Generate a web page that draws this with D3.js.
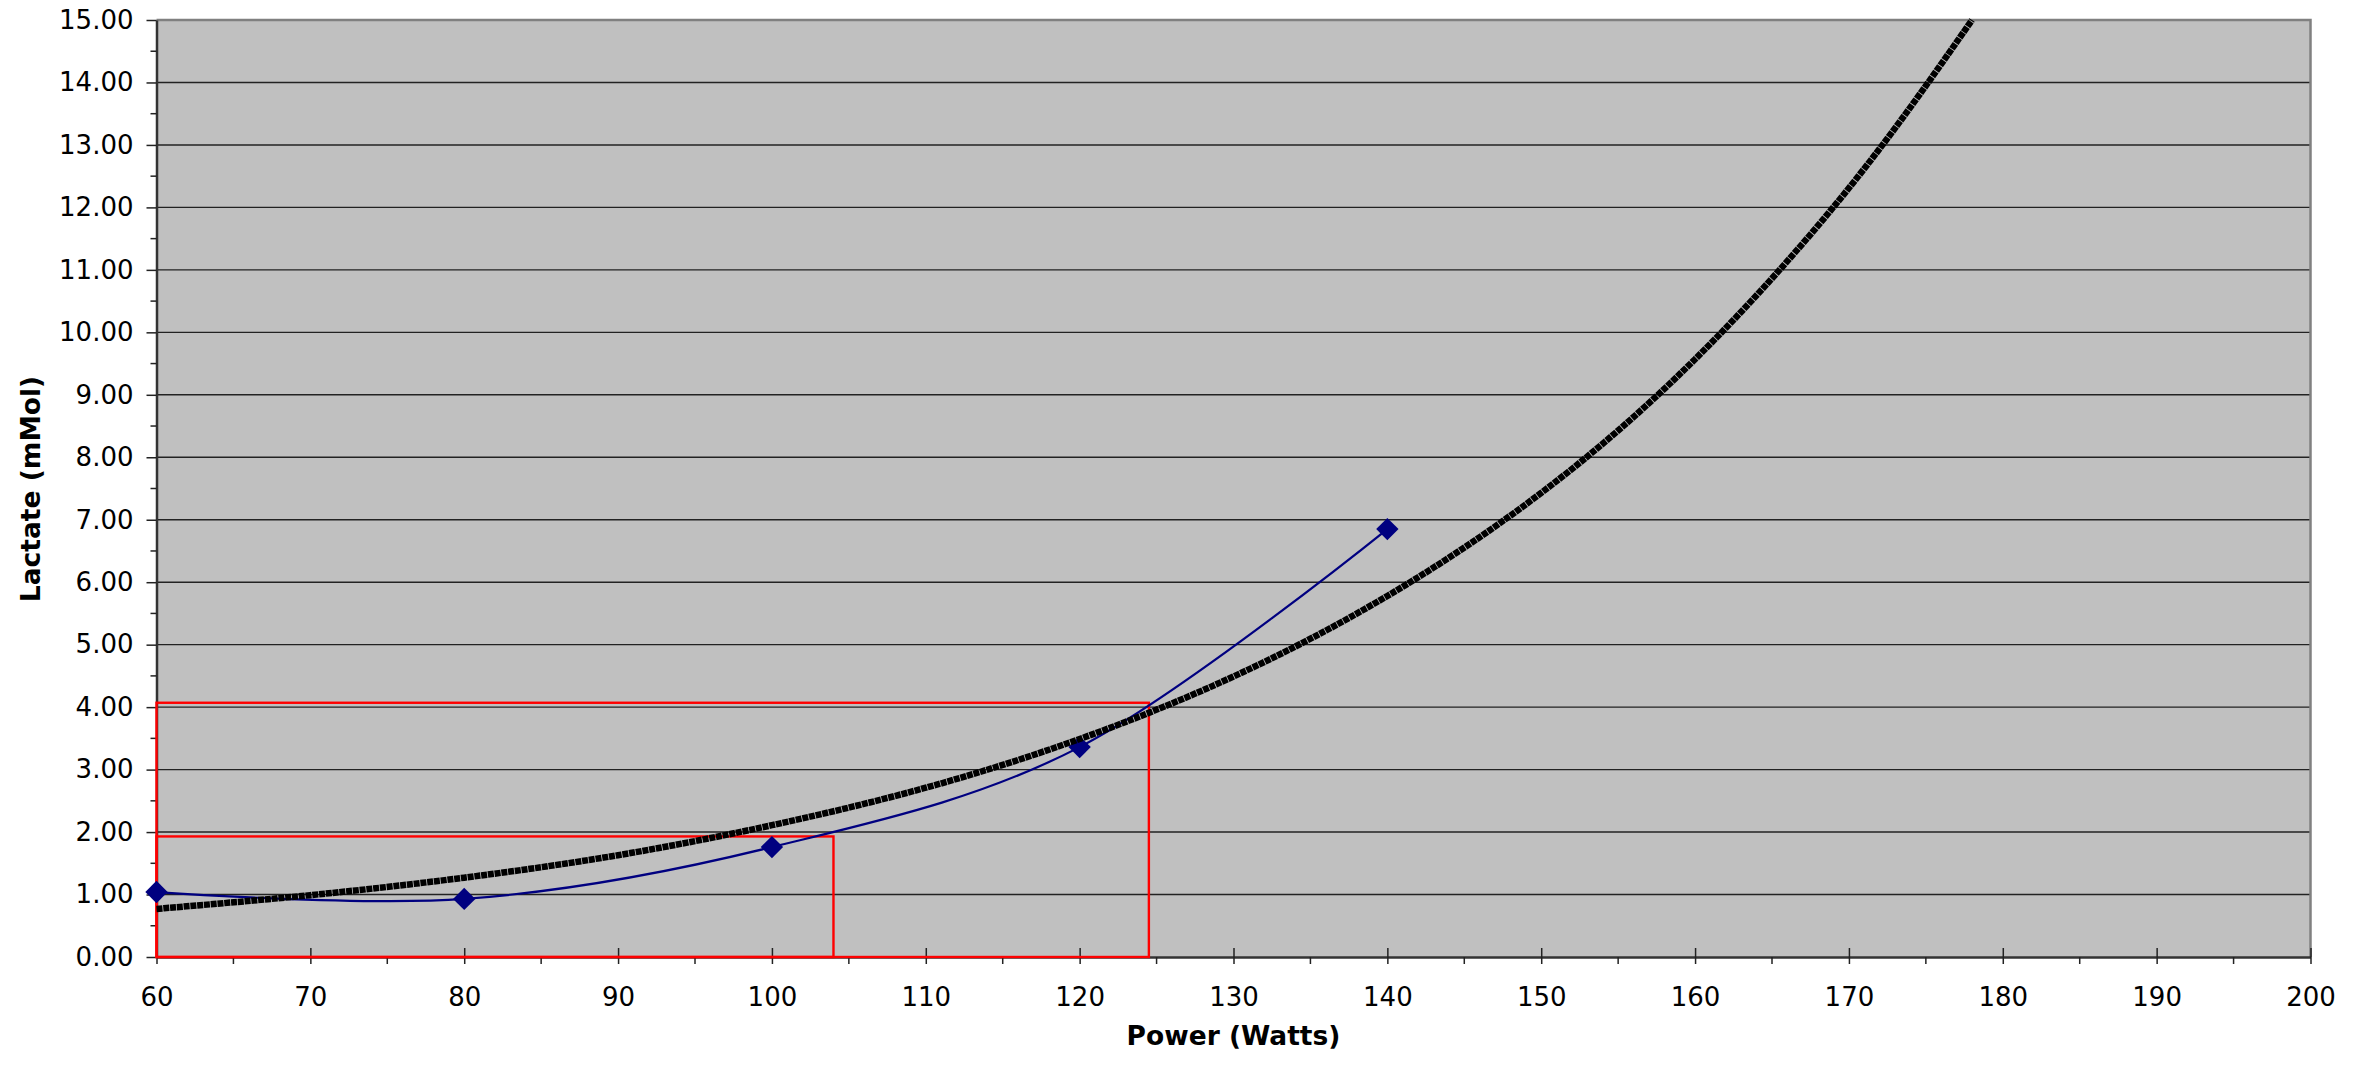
<!DOCTYPE html>
<html>
<head>
<meta charset="utf-8">
<script src="https://cdn.jsdelivr.net/npm/d3@7"></script>
<style>
  body { margin: 0; background: #fff; }
  text { font-family: "DejaVu Sans", Verdana, sans-serif; }
</style>
</head>
<body>
<div id="chart"></div>
<script>
// measured lactate test points
var powerW = [60, 80, 100, 120, 140];
var lactate = [1.04, 0.93, 1.76, 3.36, 6.85];

// exponential trendline
var trendPower = [60, 70, 80, 90, 100, 110, 120, 130, 140, 150, 160, 170, 178];
var trendLactate = [0.77, 0.99, 1.27, 1.63, 2.11, 2.71, 3.49, 4.49, 5.78, 7.43, 9.57, 12.31, 15.0];

// threshold boxes (power, lactate)
var thresholdPower = [104, 124.5];
var thresholdLactate = [1.93, 4.07];

var xTicks = [60, 70, 80, 90, 100, 110, 120, 130, 140, 150, 160, 170, 180, 190, 200];
var xMinor = [65, 75, 85, 95, 105, 115, 125, 135, 145, 155, 165, 175, 185, 195];
var yTicks = [0, 1, 2, 3, 4, 5, 6, 7, 8, 9, 10, 11, 12, 13, 14, 15];
var yMinor = [0.5, 1.5, 2.5, 3.5, 4.5, 5.5, 6.5, 7.5, 8.5, 9.5, 10.5, 11.5, 12.5, 13.5, 14.5];

var svgWidth = 2376;
var svgHeight = 1065;

var chartMargin = { top: 20, right: 65.5, bottom: 108, left: 156.5 };
var chartWidth = svgWidth - chartMargin.left - chartMargin.right;
var chartHeight = svgHeight - chartMargin.top - chartMargin.bottom;

var svg = d3.select("#chart")
  .append("svg")
  .attr("width", svgWidth)
  .attr("height", svgHeight);

var chartGroup = svg.append("g")
  .attr("transform", `translate(${chartMargin.left}, ${chartMargin.top})`);

var xScale = d3.scaleLinear().domain([60, 200]).range([0, chartWidth]);
var yScale = d3.scaleLinear().domain([0, 15]).range([chartHeight, 0]);

// plot background
chartGroup.append("rect")
  .attr("width", chartWidth)
  .attr("height", chartHeight)
  .attr("fill", "#c0c0c0");

// gridlines
chartGroup.append("g")
  .selectAll("line")
  .data(yTicks.filter(d => d > 0 && d < 15))
  .enter()
  .append("line")
  .attr("x1", 0)
  .attr("x2", chartWidth)
  .attr("y1", d => yScale(d))
  .attr("y2", d => yScale(d))
  .attr("stroke", "#222")
  .attr("stroke-width", 1.4);

// top and right border
chartGroup.append("path")
  .attr("d", `M0,0H${chartWidth}V${chartHeight}`)
  .attr("fill", "none")
  .attr("stroke", "#808080")
  .attr("stroke-width", 2.5);

// axes
var leftAxis = d3.axisLeft(yScale)
  .tickValues(yTicks)
  .tickFormat(d3.format(".2f"))
  .tickSize(10)
  .tickSizeOuter(0)
  .tickPadding(13);

var yAxisG = chartGroup.append("g").call(leftAxis);
yAxisG.select(".domain").attr("stroke", "#333").attr("stroke-width", 2.5);
yAxisG.selectAll(".tick line").attr("stroke", "#222").attr("stroke-width", 1.5);
yAxisG.selectAll("text").attr("font-size", 26).attr("fill", "#000")
  .style("font-family", "'DejaVu Sans', Verdana, sans-serif");

chartGroup.append("g")
  .selectAll("line")
  .data(yMinor)
  .enter()
  .append("line")
  .attr("x1", -6)
  .attr("x2", 0)
  .attr("y1", d => yScale(d))
  .attr("y2", d => yScale(d))
  .attr("stroke", "#222")
  .attr("stroke-width", 1.5);

var bottomAxis = d3.axisBottom(xScale)
  .tickValues(xTicks)
  .tickSize(7)
  .tickSizeOuter(0)
  .tickPadding(24);

var xAxisG = chartGroup.append("g")
  .attr("transform", `translate(0, ${chartHeight})`)
  .call(bottomAxis);
xAxisG.select(".domain").attr("stroke", "#333").attr("stroke-width", 2.5);
xAxisG.selectAll(".tick line").attr("y1", -9).attr("stroke", "#222").attr("stroke-width", 1.5);
xAxisG.selectAll("text").attr("font-size", 26).attr("fill", "#000")
  .style("font-family", "'DejaVu Sans', Verdana, sans-serif");

chartGroup.append("g")
  .selectAll("line")
  .data(xMinor)
  .enter()
  .append("line")
  .attr("x1", d => xScale(d))
  .attr("x2", d => xScale(d))
  .attr("y1", chartHeight)
  .attr("y2", chartHeight + 7)
  .attr("stroke", "#222")
  .attr("stroke-width", 1.5);

// threshold boxes, drawn over the axis lines
chartGroup.append("g")
  .selectAll("rect")
  .data(thresholdPower)
  .enter()
  .append("rect")
  .attr("x", xScale(60))
  .attr("y", (d, i) => yScale(thresholdLactate[i]))
  .attr("width", d => xScale(d) - xScale(60))
  .attr("height", (d, i) => yScale(0) - yScale(thresholdLactate[i]))
  .attr("fill", "none")
  .attr("stroke", "#ff0000")
  .attr("stroke-width", 2.4);

// measured series, smoothed
var pts = powerW.map((p, i) => [p, lactate[i]]);
var blueLine = d3.line()
  .x(d => xScale(d[0]))
  .y(d => yScale(d[1]))
  .curve(d3.curveCardinal.tension(0));

chartGroup.append("path")
  .datum(pts)
  .attr("d", blueLine)
  .attr("fill", "none")
  .attr("stroke", "#000080")
  .attr("stroke-width", 2.2);

chartGroup.append("g")
  .selectAll("path")
  .data(pts)
  .enter()
  .append("path")
  .attr("d", d3.symbol().type(d3.symbolSquare).size(250))
  .attr("transform", d => `translate(${xScale(d[0])}, ${yScale(d[1])}) rotate(45)`)
  .attr("fill", "#000080");

// trendline
var trendPts = trendPower.map((p, i) => [p, trendLactate[i]]);
var trendLine = d3.line()
  .x(d => xScale(d[0]))
  .y(d => yScale(d[1]))
  .curve(d3.curveNatural);

chartGroup.append("path")
  .datum(trendPts)
  .attr("d", trendLine)
  .attr("fill", "none")
  .attr("stroke", "#000")
  .attr("stroke-width", 6.5)
  .attr("stroke-dasharray", "6,0.8");

// axis titles
svg.append("text")
  .attr("x", chartMargin.left + xScale(130))
  .attr("y", 1045)
  .attr("text-anchor", "middle")
  .attr("font-size", 26.5)
  .attr("font-weight", "bold")
  .text("Power (Watts)");

svg.append("text")
  .attr("transform", "translate(40, 489) rotate(-90)")
  .attr("text-anchor", "middle")
  .attr("font-size", 26.5)
  .attr("font-weight", "bold")
  .text("Lactate (mMol)");
</script>
</body>
</html>
